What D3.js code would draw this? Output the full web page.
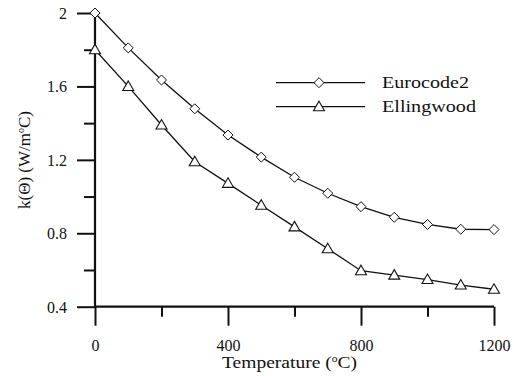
<!DOCTYPE html>
<html>
<head>
<meta charset="utf-8">
<script src="https://cdn.jsdelivr.net/npm/d3@7"></script>
<style>
  body { margin: 0; background: #fff; }
  svg { display: block; }
</style>
</head>
<body>
<div id="chart"></div>
<script>
// temperatures (degC) and conductivity k(theta)
var temps = [0, 100, 200, 300, 400, 500, 600, 700, 800, 900, 1000, 1100, 1200];
var eurocode2 = [2.0, 1.81, 1.635, 1.478, 1.335, 1.215, 1.105, 1.018, 0.945, 0.887, 0.848, 0.822, 0.82];
var ellingwood = [1.8, 1.6, 1.39, 1.19, 1.072, 0.953, 0.835, 0.716, 0.596, 0.572, 0.548, 0.518, 0.495];
var seriesNames = ["Eurocode2", "Ellingwood"];

var xMajor = [0, 400, 800, 1200];
var xMinor = [200, 600, 1000];
var yMajor = [0.4, 0.8, 1.2, 1.6, 2];
var yMinor = [0.6, 1.0, 1.4, 1.8];

var width = 514, height = 376;
var serif = "Liberation Serif";

var x = d3.scaleLinear().domain([0, 1200]).range([95, 494]);
var y = d3.scaleLinear().domain([0.4, 2]).range([306.7, 13]);

var svg = d3.select("#chart").append("svg")
    .attr("width", width)
    .attr("height", height);

// curves
var line = d3.line()
    .x(function (d, i) { return x(temps[i]); })
    .y(function (d) { return y(d); });

[eurocode2, ellingwood].forEach(function (vals) {
    svg.append("path")
        .datum(vals)
        .attr("d", line)
        .attr("fill", "none")
        .attr("stroke", "#111")
        .attr("stroke-width", 1.3);
});

// y axis, minor then major ticks
svg.append("g")
    .attr("transform", "translate(" + x(0) + ",0)")
    .call(d3.axisLeft(y).tickValues(yMinor).tickSize(11).tickFormat(""))
    .call(function (g) { g.select(".domain").remove(); })
    .selectAll("line").attr("stroke", "#111").attr("stroke-width", 2);

var yAx = svg.append("g")
    .attr("transform", "translate(" + x(0) + ",0)")
    .attr("font-family", serif)
    .call(d3.axisLeft(y).tickValues(yMajor).tickSize(18).tickPadding(10)
        .tickFormat(function (d) { return d === 2 ? "2" : d3.format(".1f")(d); }));
yAx.attr("font-family", serif).attr("font-size", 16);
yAx.select(".domain").attr("stroke", "#111").attr("stroke-width", 2.2)
    .attr("d", "M0," + y(0.4) + "V" + y(2));
yAx.selectAll("line").attr("stroke", "#111").attr("stroke-width", 2);
yAx.selectAll("text").attr("fill", "#111").attr("dy", "0.34em");

// x axis
svg.append("g")
    .attr("transform", "translate(0," + y(0.4) + ")")
    .call(d3.axisBottom(x).tickValues(xMinor).tickSize(10).tickFormat(""))
    .call(function (g) { g.select(".domain").remove(); })
    .selectAll("line").attr("stroke", "#111").attr("stroke-width", 2);

var xAx = svg.append("g")
    .attr("transform", "translate(0," + y(0.4) + ")")
    .call(d3.axisBottom(x).tickValues(xMajor).tickSize(19).tickPadding(14)
        .tickFormat(d3.format("d")));
xAx.attr("font-family", serif).attr("font-size", 16);
xAx.select(".domain").attr("stroke", "#111").attr("stroke-width", 2.2)
    .attr("d", "M" + x(0) + ",0H" + x(1200));
xAx.selectAll("line").attr("stroke", "#111").attr("stroke-width", 2);
xAx.selectAll("text").attr("fill", "#111");

// markers
function diamond(g, cx, cy) {
    g.append("path")
        .attr("d", d3.symbol().type(d3.symbolDiamond2).size(64)())
        .attr("transform", "translate(" + cx + "," + cy + ")")
        .attr("fill", "#fff")
        .attr("stroke", "#111")
        .attr("stroke-width", 1);
}
function triangle(g, cx, cy) {
    g.append("path")
        .attr("d", "M0,-5.5L5.5,4L-5.5,4Z")
        .attr("transform", "translate(" + cx + "," + cy + ")")
        .attr("fill", "#fff")
        .attr("stroke", "#111")
        .attr("stroke-width", 1.1);
}

var marks = svg.append("g");
temps.forEach(function (t, i) {
    diamond(marks, x(t), y(eurocode2[i]));
    triangle(marks, x(t), y(ellingwood[i]));
});

// legend
var legend = svg.append("g");
var legY = [82.7, 106.7];
seriesNames.forEach(function (name, i) {
    legend.append("line")
        .attr("x1", 276).attr("x2", 365)
        .attr("y1", legY[i]).attr("y2", legY[i])
        .attr("stroke", "#111").attr("stroke-width", 1.3);
    if (i === 0) diamond(legend, 319, legY[i]);
    else triangle(legend, 319, legY[i]);
    legend.append("text")
        .attr("x", 382)
        .attr("y", legY[i] + 5)
        .attr("font-family", serif)
        .attr("font-size", 17)
        .attr("fill", "#111")
        .attr("textLength", i === 0 ? 87 : 94)
        .attr("lengthAdjust", "spacingAndGlyphs")
        .text(name);
});

// axis titles
var xt = svg.append("text")
    .attr("x", 222)
    .attr("y", 368)
    .attr("font-family", serif)
    .attr("font-size", 17)
    .attr("fill", "#111")
    .attr("textLength", 135)
    .attr("lengthAdjust", "spacingAndGlyphs");
xt.append("tspan").text("Temperature (");
xt.append("tspan").attr("dy", -6).attr("font-size", 10).text("o");
xt.append("tspan").attr("dy", 6).text("C)");

var yt = svg.append("text")
    .attr("transform", "translate(30,160) rotate(-90)")
    .attr("text-anchor", "middle")
    .attr("font-family", serif)
    .attr("font-size", 17)
    .attr("fill", "#111");
yt.append("tspan").text("k(\u0398) (W/m");
yt.append("tspan").attr("dy", -6).attr("font-size", 10).text("o");
yt.append("tspan").attr("dy", 6).text("C)");
</script>
</body>
</html>
